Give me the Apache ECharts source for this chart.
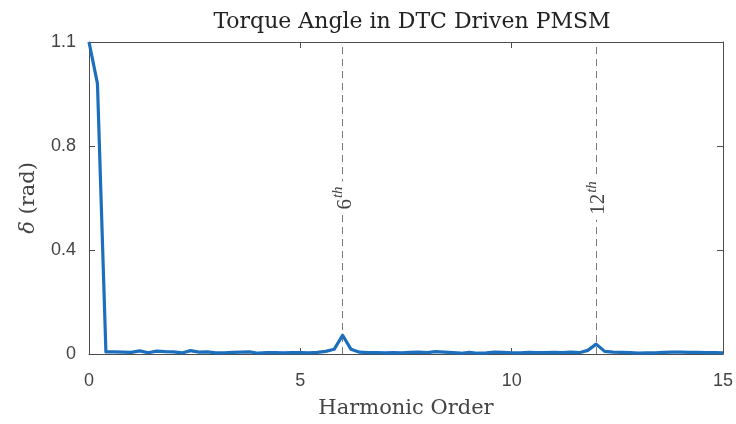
<!DOCTYPE html>
<html>
<head>
<meta charset="utf-8">
<script src="https://cdn.jsdelivr.net/npm/echarts@6/dist/echarts.min.js"></script>
<style>
  html, body { margin: 0; padding: 0; background: #fff; }
  #chart { width: 736px; height: 424px; }
</style>
</head>
<body>
<div id="chart"></div>
<script>
// Harmonic order samples (step 0.2 from 0 to 15)
const harmonicOrder = [
  0.0, 0.2, 0.4, 0.6, 0.8, 1.0, 1.2, 1.4, 1.6, 1.8,
  2.0, 2.2, 2.4, 2.6, 2.8, 3.0, 3.2, 3.4, 3.6, 3.8,
  4.0, 4.2, 4.4, 4.6, 4.8, 5.0, 5.2, 5.4, 5.6, 5.8,
  6.0, 6.2, 6.4, 6.6, 6.8, 7.0, 7.2, 7.4, 7.6, 7.8,
  8.0, 8.2, 8.4, 8.6, 8.8, 9.0, 9.2, 9.4, 9.6, 9.8,
  10.0, 10.2, 10.4, 10.6, 10.8, 11.0, 11.2, 11.4, 11.6, 11.8,
  12.0, 12.2, 12.4, 12.6, 12.8, 13.0, 13.2, 13.4, 13.6, 13.8,
  14.0, 14.2, 14.4, 14.6, 14.8, 15.0
];

// Torque angle spectrum magnitude (rad)
const deltaRad = [
  1.2, 1.04, 0.008, 0.008, 0.007, 0.006, 0.012, 0.005, 0.011, 0.009,
  0.008, 0.004, 0.013, 0.007, 0.008, 0.004, 0.004, 0.006, 0.007, 0.008,
  0.003, 0.005, 0.005, 0.004, 0.005, 0.005, 0.004, 0.006, 0.010, 0.018,
  0.072, 0.018, 0.007, 0.005, 0.005, 0.004, 0.005, 0.004, 0.006, 0.007,
  0.005, 0.009, 0.007, 0.005, 0.003, 0.006, 0.003, 0.004, 0.007, 0.006,
  0.004, 0.004, 0.006, 0.005, 0.005, 0.006, 0.005, 0.007, 0.005, 0.014,
  0.038, 0.010, 0.007, 0.006, 0.005, 0.003, 0.004, 0.004, 0.006, 0.007,
  0.007, 0.006, 0.006, 0.005, 0.005, 0.004
];

// Axis ticks and their printed labels
const xTicks = [0, 5, 10, 15];
const yTicks = [0, 0.4, 0.8, 1.2];
const yTickLabels = ['0', '0.4', '0.8', '1.1'];

// Marked harmonics
const markedHarmonics = [6, 12];
const markedLabels = ['6', '12'];

const chart = echarts.init(document.getElementById('chart'));

const axisColor = '#4d4d4d';
const serifWide = 'DejaVu Serif';
const serif = 'Liberation Serif';
const sans = 'Liberation Sans';

const points = harmonicOrder.map((x, i) => [x, deltaRad[i]]);

const tickLabelStyle = { fontFamily: sans, fontSize: 18, color: '#444' };

const option = {
  animation: false,
  backgroundColor: '#ffffff',
  textStyle: { fontFamily: sans },
  title: {
    text: 'Torque Angle in DTC Driven PMSM',
    left: 407,
    top: 6,
    textAlign: 'center',
    textStyle: { fontFamily: serifWide, fontSize: 22, fontWeight: 'normal', color: '#222' }
  },
  grid: { left: 89, right: 11, top: 42, bottom: 68, show: false },
  xAxis: [
    {
      type: 'value', min: 0, max: 15, interval: 5,
      name: 'Harmonic Order', nameLocation: 'middle', nameGap: 44,
      nameTextStyle: { fontFamily: serifWide, fontSize: 21, color: '#444' },
      axisLine: { show: true, onZero: false, lineStyle: { color: axisColor, width: 1 } },
      axisTick: { show: true, inside: true, length: 6, lineStyle: { color: axisColor } },
      axisLabel: Object.assign({}, tickLabelStyle, {
        margin: 18,
        formatter: v => (xTicks.includes(v) ? '{t|' + v + '}' : ''),
        rich: { t: tickLabelStyle }
      }),
      splitLine: { show: false }
    },
    {
      type: 'value', min: 0, max: 15, interval: 5, position: 'top',
      axisLine: { show: true, onZero: false, lineStyle: { color: axisColor, width: 1 } },
      axisTick: { show: true, inside: true, length: 6, lineStyle: { color: axisColor } },
      axisLabel: { show: false },
      splitLine: { show: false }
    }
  ],
  yAxis: [
    {
      type: 'value', min: 0, max: 1.2, interval: 0.4,
      name: '{d|δ} (rad)', nameLocation: 'middle', nameGap: 50, nameRotate: 90,
      nameTextStyle: {
        fontFamily: serifWide, fontSize: 21, color: '#444',
        rich: { d: { fontFamily: serifWide, fontStyle: 'italic', fontSize: 21, color: '#444' } }
      },
      axisLine: { show: true, onZero: false, lineStyle: { color: axisColor, width: 1 } },
      axisTick: { show: true, inside: true, length: 6, lineStyle: { color: axisColor } },
      axisLabel: Object.assign({}, tickLabelStyle, {
        margin: 13,
        formatter: v => {
          const i = yTicks.findIndex(t => Math.abs(t - v) < 1e-9);
          return i >= 0 ? '{t|' + yTickLabels[i] + '}' : '';
        },
        rich: { t: tickLabelStyle }
      }),
      splitLine: { show: false }
    },
    {
      type: 'value', min: 0, max: 1.2, interval: 0.4, position: 'right',
      axisLine: { show: true, onZero: false, lineStyle: { color: axisColor, width: 1 } },
      axisTick: { show: true, inside: true, length: 6, lineStyle: { color: axisColor } },
      axisLabel: { show: false },
      splitLine: { show: false }
    }
  ],
  series: [
    {
      type: 'line',
      data: points,
      showSymbol: false,
      symbol: 'none',
      lineStyle: { color: '#1c6fbd', width: 3.2, join: 'round' },
      z: 5,
      markLine: {
        silent: true,
        symbol: ['none', 'none'],
        lineStyle: { type: [7, 5], color: '#7a7a7a', width: 1 },
        label: {
          show: true,
          position: 'middle',
          distance: -13,
          backgroundColor: '#fff',
          padding: [0, 5],
          formatter: p => '{n|' + markedLabels[markedHarmonics.indexOf(p.value)] + '}{s|th}',
          rich: {
            n: { fontFamily: serif, fontSize: 21, color: '#444', verticalAlign: 'bottom' },
            s: { fontFamily: serif, fontStyle: 'italic', fontSize: 15, color: '#444', verticalAlign: 'top', padding: [0, 0, 10, 1] }
          }
        },
        data: markedHarmonics.map(h => ({ xAxis: h }))
      }
    }
  ]
};

chart.setOption(option);
</script>
</body>
</html>
